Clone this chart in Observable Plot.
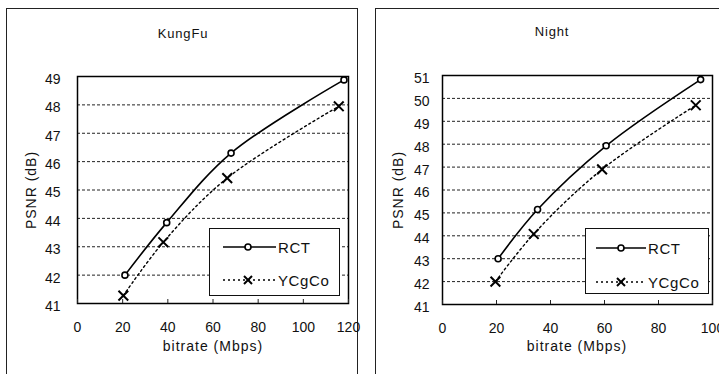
<!DOCTYPE html>
<html>
<head>
<meta charset="utf-8">
<script src="https://cdn.jsdelivr.net/npm/d3@7"></script>
<script src="https://cdn.jsdelivr.net/npm/@observablehq/plot@0.6"></script>
<style>
  html, body { margin: 0; padding: 0; background: #fff; }
  #root { position: relative; width: 719px; height: 374px; overflow: hidden; font-family: "Liberation Sans", Arial, sans-serif; color: #111; }
  .box { position: absolute; border: 1px solid #222; }
  .t { position: absolute; font-size: 13px; letter-spacing: 0.8px; white-space: nowrap; transform: translate(-50%, -50%); }
  .xl { position: absolute; font-size: 14px; letter-spacing: 1px; white-space: nowrap; transform: translate(-50%, -50%); }
  .ylab { position: absolute; font-size: 14px; letter-spacing: 1px; white-space: nowrap; transform: translate(-50%, -50%) rotate(-90deg); }
  .panel { position: absolute; top: 0; }
  .legend { position: absolute; border: 1px solid #111; background: #fff; }
  .legend svg { position: absolute; left: 0; top: 0; }
  .legend span { position: absolute; font-size: 15px; letter-spacing: 0.6px; transform: translateY(-50%); }
</style>
</head>
<body>
<div id="root"></div>
<script>
// ---- data ----
const seriesNames = ["RCT", "YCgCo"];
const kungfuTitle = "KungFu";
const kungfuRctX = [21, 39.5, 68, 118];
const kungfuRctY = [42.0, 43.85, 46.3, 48.88];
const kungfuYcgX = [20.3, 38, 66.3, 115.7];
const kungfuYcgY = [41.28, 43.16, 45.42, 47.95];
const kungfuXTicks = [0, 20, 40, 60, 80, 100, 120];
const kungfuYTicks = [41, 42, 43, 44, 45, 46, 47, 48, 49];

const nightTitle = "Night";
const nightRctX = [20.6, 35.2, 60.6, 95.6];
const nightRctY = [43.0, 45.15, 47.93, 50.82];
const nightYcgX = [19.6, 33.8, 59.1, 93.8];
const nightYcgY = [42.0, 44.08, 46.9, 49.7];
const nightXTicks = [0, 20, 40, 60, 80, 100];
const nightYTicks = [41, 42, 43, 44, 45, 46, 47, 48, 49, 50, 51];

const xLabel = "bitrate (Mbps)";
const yLabel = "PSNR (dB)";

const zip = (xs, ys) => xs.map((x, i) => ({x, y: ys[i]}));

const root = document.getElementById("root");

function el(tag, cls, css, text) {
  const e = document.createElement(tag);
  if (cls) e.className = cls;
  Object.assign(e.style, css);
  if (text != null) e.textContent = text;
  root.appendChild(e);
  return e;
}

function panel(cfg) {
  const rct = zip(cfg.rctX, cfg.rctY);
  const ycg = zip(cfg.ycgX, cfg.ycgY);
  const chart = Plot.plot({
    width: cfg.width,
    height: 374,
    marginLeft: cfg.ml, marginRight: cfg.mr, marginTop: cfg.mt, marginBottom: cfg.mb,
    style: {background: "transparent", fontFamily: "'Liberation Sans', Arial, sans-serif", fontSize: "14px", color: "#111", overflow: "visible"},
    x: {domain: [cfg.xTicks[0], cfg.xTicks[cfg.xTicks.length - 1]]},
    y: {domain: [cfg.yTicks[0], cfg.yTicks[cfg.yTicks.length - 1]]},
    marks: [
      Plot.ruleY(cfg.yTicks.slice(1, -1), {stroke: "#222", strokeDasharray: "3,2", strokeWidth: 1}),
      Plot.frame({stroke: "#000", strokeWidth: 1.5}),
      Plot.axisX({ticks: cfg.xTicks, tickSize: -4, tickPadding: 23, label: null, tickFormat: d => String(d), stroke: "#222"}),
      Plot.axisY({ticks: cfg.yTicks, tickSize: 0, tickPadding: cfg.ypad, label: null, dy: 3, tickFormat: d => String(d)}),
      Plot.line(ycg, {x: "x", y: "y", curve: "catmull-rom", stroke: "#000", strokeWidth: 1.4, strokeDasharray: "2,3"}),
      Plot.line(rct, {x: "x", y: "y", curve: "catmull-rom", stroke: "#000", strokeWidth: 1.6}),
      Plot.dot(rct, {x: "x", y: "y", symbol: "circle", r: 3, stroke: "#000", fill: "#fff", strokeWidth: 1.6}),
      Plot.dot(ycg, {x: "x", y: "y", symbol: "times", r: 4.5, stroke: "#000", strokeWidth: 2})
    ]
  });
  const wrap = el("div", "panel", {left: cfg.left + "px", width: cfg.width + "px"});
  wrap.appendChild(chart);
}

// panel borders
el("div", "box", {left: "6px", top: "8px", width: "350px", height: "400px"});
el("div", "box", {left: "375px", top: "8px", width: "400px", height: "400px"});

panel({left: 0, width: 360, ml: 77, mr: 12, mt: 76, mb: 71, ypad: 17,
  xTicks: kungfuXTicks, yTicks: kungfuYTicks,
  rctX: kungfuRctX, rctY: kungfuRctY, ycgX: kungfuYcgX, ycgY: kungfuYcgY});
panel({left: 360, width: 359, ml: 82, mr: 7, mt: 75, mb: 70, ypad: 13,
  xTicks: nightXTicks, yTicks: nightYTicks,
  rctX: nightRctX, rctY: nightRctY, ycgX: nightYcgX, ycgY: nightYcgY});

// titles and axis labels
el("div", "t", {left: "183px", top: "33px"}, kungfuTitle);
el("div", "t", {left: "552px", top: "31px"}, nightTitle);
el("div", "xl", {left: "213px", top: "346px"}, xLabel);
el("div", "xl", {left: "577px", top: "346px"}, xLabel);
el("div", "ylab", {left: "31px", top: "190px"}, yLabel);
el("div", "ylab", {left: "398px", top: "190px"}, yLabel);

// legends
function legend(left, top, w, h, x0, x1, xm, tx, r1, r2) {
  const box = el("div", "legend", {left: left + "px", top: top + "px", width: w + "px", height: h + "px"});
  const ns = "http://www.w3.org/2000/svg";
  const svg = document.createElementNS(ns, "svg");
  svg.setAttribute("width", w); svg.setAttribute("height", h);
  svg.innerHTML =
    `<line x1="${x0}" x2="${x1}" y1="${r1}" y2="${r1}" stroke="#000" stroke-width="1.6"/>` +
    `<circle cx="${xm}" cy="${r1}" r="3" fill="#fff" stroke="#000" stroke-width="1.6"/>` +
    `<line x1="${x0}" x2="${x1}" y1="${r2}" y2="${r2}" stroke="#000" stroke-width="1.4" stroke-dasharray="2,3"/>` +
    `<path d="M${xm-4},${r2-4}L${xm+4},${r2+4}M${xm-4},${r2+4}L${xm+4},${r2-4}" stroke="#000" stroke-width="2"/>`;
  box.appendChild(svg);
  const s1 = document.createElement("span"); s1.textContent = seriesNames[0];
  Object.assign(s1.style, {left: tx + "px", top: r1 + "px"});
  const s2 = document.createElement("span"); s2.textContent = seriesNames[1];
  Object.assign(s2.style, {left: tx + "px", top: r2 + "px"});
  box.appendChild(s1); box.appendChild(s2);
}
legend(209, 228, 129, 66, 13, 66, 38, 68, 18, 51);
legend(585, 228, 122, 64, 10, 60, 35, 62, 19, 53);
</script>
</body>
</html>
